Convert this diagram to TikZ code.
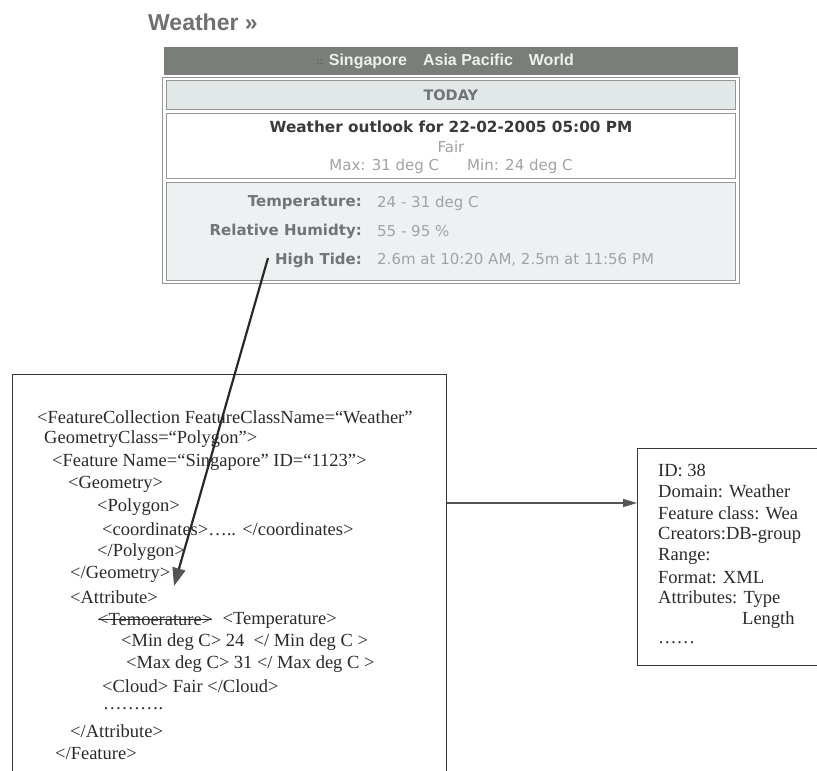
\documentclass[tikz,border=0pt]{standalone}
\usepackage{fontspec}
\setmainfont{Liberation Serif}
\newfontfamily\webfont{DejaVu Sans}
\newfontfamily\navfont{Liberation Sans}
\usetikzlibrary{arrows.meta}

\definecolor{barcol}{RGB}{122,126,120}
\definecolor{navtext}{RGB}{238,240,236}
\definecolor{navdots}{RGB}{95,100,92}
\definecolor{rowcol}{RGB}{226,231,231}
\definecolor{infocol}{RGB}{238,241,241}
\definecolor{framecol}{RGB}{150,150,150}
\definecolor{labelcol}{RGB}{112,116,116}
\definecolor{valuecol}{RGB}{160,163,163}
\definecolor{headcol}{RGB}{58,58,58}
\definecolor{titlecol}{RGB}{112,112,112}
\definecolor{inkcol}{RGB}{42,42,42}
\definecolor{boxline}{RGB}{55,55,55}
\definecolor{tipcol}{RGB}{85,85,85}

\tikzset{
  webrow/.style={draw=framecol, line width=0.6pt, anchor=north west, inner sep=0pt},
  weblabel/.style={anchor=east, inner sep=0pt, text=labelcol, font=\webfont\bfseries\fontsize{15}{17}\selectfont},
  webvalue/.style={anchor=west, inner sep=0pt, text=valuecol, font=\webfont\fontsize{15}{17}\selectfont},
  xmlline/.style={anchor=west, inner sep=0pt, text=inkcol, font=\fontsize{18.5}{22}\selectfont},
  metaline/.style={anchor=west, inner sep=0pt, text=inkcol, font=\fontsize{18.5}{22}\selectfont},
  docbox/.style={draw=boxline, line width=1.2pt, anchor=north west, inner sep=0pt},
}

\begin{document}
\begin{tikzpicture}[x=1pt, y=-1pt]
\useasboundingbox (0,0) rectangle (817,771);

% ---- web page panel ----
\node[anchor=west, inner sep=0pt, text=titlecol, font=\navfont\bfseries\fontsize{23}{25}\selectfont] (title) at (148,22) {Weather »};

\node[fill=barcol, draw=none, anchor=north west, minimum width=574pt, minimum height=28pt, inner sep=0pt] (bar) at (164,47) {};
\node[anchor=west, inner sep=0pt, text=navtext, font=\navfont\bfseries\fontsize{16}{18}\selectfont] (nav) at (316,61)
  {{\color{navdots}\fontsize{10}{10}\selectfont\raisebox{1pt}{::}}\hspace{6pt}Singapore\hspace{16pt}Asia Pacific\hspace{16pt}World};

\node[webrow, minimum width=577pt, minimum height=206pt] (frame) at (162,77) {};
\node[webrow, fill=rowcol, minimum width=569pt, minimum height=29pt] (todayrow) at (166,80) {};
\node[webrow, fill=white, minimum width=569pt, minimum height=65pt] (outlookrow) at (166,113) {};
\node[webrow, fill=infocol, minimum width=569pt, minimum height=98pt] (inforow) at (166,182) {};

\node[inner sep=0pt, text=labelcol, font=\webfont\bfseries\fontsize{14.5}{17}\selectfont] (today) at (todayrow.center) {TODAY};
\node[inner sep=0pt, text=headcol, font=\webfont\bfseries\fontsize{15.3}{17}\selectfont] (outlook) at (451,127) {Weather outlook for 22-02-2005 05:00 PM};
\node[inner sep=0pt, text=valuecol, font=\webfont\fontsize{15}{17}\selectfont] (fair) at (451,147) {Fair};
\node[inner sep=0pt, text=valuecol, font=\webfont\fontsize{15}{17}\selectfont] (maxmin) at (451,166) {Max: 31 deg C\hspace{28pt}Min: 24 deg C};

\node[weblabel] (templ) at (362,203) {Temperature:};
\node[webvalue] (tempv) at (377,203) {24 - 31 deg C};
\node[weblabel] (huml) at (362,231) {Relative Humidty:};
\node[webvalue] (humv) at (377,231) {55 - 95 \%};
\node[weblabel] (tidel) at (362,260) {High Tide:};
\node[webvalue] (tidev) at (377,260) {2.6m at 10:20 AM, 2.5m at 11:56 PM};

% ---- XML document box ----
\node[docbox, minimum width=434pt, minimum height=420pt] (xmlbox) at (12,374) {};
\node[xmlline] (x1) at (37,417) {<FeatureCollection FeatureClassName=“Weather”};
\node[xmlline] (x2) at (44,439) {GeometryClass=“Polygon”>};
\node[xmlline] (x3) at (52,462) {<Feature Name=“Singapore” ID=“1123”>};
\node[xmlline] (x4) at (68,484) {<Geometry>};
\node[xmlline] (x5) at (97,507) {<Polygon>};
\node[xmlline] (x6) at (102,529) {<coordinates>….. </coordinates>};
\node[xmlline] (x7) at (97,552) {</Polygon>};
\node[xmlline] (x8) at (70,574) {</Geometry>};
\node[xmlline] (x9) at (70,597) {<Attribute>};
\node[xmlline] (x10a) at (98,620) {<Temoerature>};
\node[xmlline, anchor=west] (x10b) at ([xshift=10pt]x10a.east) {<Temperature>};
\draw[draw=inkcol, line width=0.8pt] ([yshift=1pt]x10a.west) -- ([yshift=1pt]x10a.east);
\node[xmlline] (x11) at (121,642) {<Min deg C> 24\ \ </ Min deg C >};
\node[xmlline] (x12) at (126,664) {<Max deg C> 31 </ Max deg C >};
\node[xmlline] (x13) at (102,686) {<Cloud> Fair </Cloud>};
\node[xmlline] (x14) at (103,709) {……….};
\node[xmlline] (x15) at (70,731) {</Attribute>};
\node[xmlline] (x16) at (55,753) {</Feature>};

% ---- metadata box ----
\node[docbox, minimum width=200pt, minimum height=217pt] (metabox) at (637,448) {};
\node[metaline] (m1) at (658,470) {ID: 38};
\node[metaline] (m2) at (658,491) {Domain: Weather};
\node[metaline] (m3) at (658,513) {Feature class: Wea};
\node[metaline] (m4) at (658,535) {Creators:DB-group};
\node[metaline] (m5) at (658,556) {Range:};
\node[metaline] (m6) at (658,578) {Format: XML};
\node[metaline] (m7) at (658,599) {Attributes: Type};
\node[metaline] (m8) at (742,620) {Length};
\node[metaline] (m9) at (658,643) {……};

% ---- connectors ----
\coordinate (tidept) at (268,258);
\coordinate (attrpt) at (174,586);
\draw[draw=inkcol, line width=2.2pt, -{Triangle[length=18pt, width=13pt, color=tipcol, fill=tipcol]}] (tidept) -- (attrpt);

\coordinate (linkstart) at (xmlbox.north east |- 0,503);
\draw[draw=tipcol, line width=1.2pt, -{Triangle[length=14pt, width=8pt]}] (linkstart) -- (linkstart -| metabox.west);
\end{tikzpicture}
\end{document}
